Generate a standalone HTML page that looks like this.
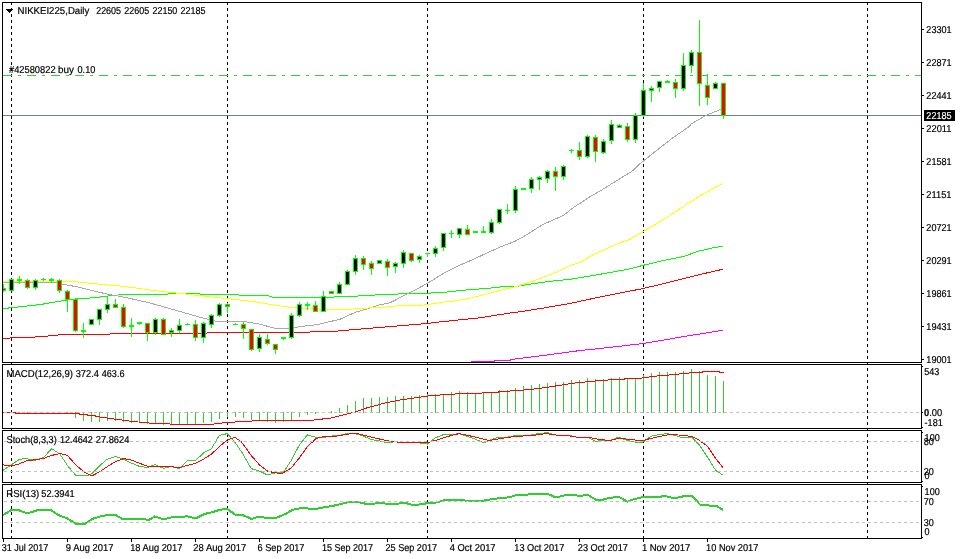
<!DOCTYPE html>
<html lang="en"><head><meta charset="utf-8"><title>NIKKEI225, Daily</title>
<style>
html,body{margin:0;padding:0;background:#fff;}
body{width:961px;height:559px;overflow:hidden;}
svg{display:block;}
svg text{font-family:'Liberation Sans', sans-serif;font-size:10px;white-space:pre;stroke-width:0.2px;text-rendering:geometricPrecision;}
svg rect,svg line,svg polyline{shape-rendering:crispEdges;}
</style></head><body>
<svg width="961" height="559" viewBox="0 0 961 559">
<rect x="0" y="0" width="961" height="559" fill="#fff"/>
<defs>
<clipPath id="cp0"><rect x="3" y="3" width="918" height="359"/></clipPath>
<clipPath id="cp1"><rect x="3" y="365" width="918" height="63"/></clipPath>
<clipPath id="cp2"><rect x="3" y="431" width="918" height="51"/></clipPath>
<clipPath id="cp3"><rect x="3" y="485" width="918" height="53"/></clipPath>
</defs>
<line x1="11.5" y1="2" x2="11.5" y2="539" stroke="#000" stroke-width="1" stroke-dasharray="3 3"/>
<line x1="227.5" y1="2" x2="227.5" y2="539" stroke="#000" stroke-width="1" stroke-dasharray="3 3"/>
<line x1="427.5" y1="2" x2="427.5" y2="539" stroke="#000" stroke-width="1" stroke-dasharray="3 3"/>
<line x1="643.5" y1="2" x2="643.5" y2="539" stroke="#000" stroke-width="1" stroke-dasharray="3 3"/>
<line x1="867.5" y1="2" x2="867.5" y2="539" stroke="#000" stroke-width="1" stroke-dasharray="3 3"/>
<g clip-path="url(#cp0)">
<line x1="3" y1="75.5" x2="921" y2="75.5" stroke="#32cd32" stroke-width="1" stroke-dasharray="9 6 3 6"/>
<rect x="3" y="115" width="918" height="1" fill="#708090"/>
<polyline points="471.0,361.5 494.5,361.5 495.0,360.5 510.5,360.5 511.0,359.5 519.0,358.5 527.0,357.5 535.0,356.6 579.5,350.6 610.0,347.4 644.0,343.4 684.2,336.5 723.0,330.2" fill="none" stroke="#ff00ff" stroke-width="1" stroke-linejoin="round"/>
<polyline points="3.0,338.3 40.0,336.8 64.0,334.4 108.0,334.4 112.0,333.5 205.0,333.5 209.0,332.5 308.0,332.5 312.0,331.5 333.0,331.5 343.0,330.5 354.6,329.5 367.0,328.5 379.3,327.5 391.2,326.5 402.8,325.5 415.0,324.5 427.0,323.5 434.8,322.5 444.0,321.5 455.0,320.3 480.0,317.8 510.0,313.0 521.6,311.5 542.0,308.3 556.5,305.7 570.0,303.5 593.3,298.4 616.5,293.7 643.7,288.4 674.7,280.9 697.9,275.0 723.0,269.2" fill="none" stroke="#ff0000" stroke-width="1" stroke-linejoin="round"/>
<polyline points="3.0,308.6 40.0,304.6 71.0,299.4 95.0,297.6 105.0,296.4 115.0,295.2 127.0,294.5 166.0,294.5 170.0,293.5 198.0,293.5 202.0,294.6 238.0,294.6 242.0,295.8 268.0,295.8 273.0,297.4 333.0,297.4 337.0,296.3 357.0,296.3 361.0,295.0 375.0,295.0 379.0,294.4 397.0,294.4 400.0,293.5 429.0,293.5 433.0,292.5 445.0,292.4 449.0,291.5 454.6,291.1 469.1,289.7 486.6,288.5 502.6,286.7 517.2,286.3 527.4,284.6 542.0,282.4 556.5,280.6 570.0,279.4 593.3,275.5 628.1,269.2 643.7,265.2 663.0,260.6 684.0,256.4 697.9,251.3 714.2,247.6 723.0,246.3" fill="none" stroke="#00ff00" stroke-width="1" stroke-linejoin="round"/>
<polyline points="3.0,282.6 56.0,282.8 77.6,287.0 105.0,293.6 127.7,297.9 150.0,303.0 181.3,311.9 200.0,317.2 216.4,321.4 244.0,321.4 260.0,324.2 275.0,328.4 289.0,328.5 301.0,326.4 316.4,324.8 340.2,319.2 355.2,312.3 370.0,308.0 380.0,304.8 390.0,302.8 412.0,291.5 427.4,283.4 440.0,275.5 448.6,270.6 457.2,266.3 472.2,259.9 487.2,252.8 500.1,247.0 515.2,241.2 525.9,235.2 543.1,224.4 563.5,215.4 573.2,207.7 590.3,196.5 600.0,191.1 616.5,180.8 625.1,175.5 633.3,170.4 639.0,164.5 643.0,161.3 660.0,147.7 672.7,137.9 688.4,127.1 691.5,123.7 706.5,115.1 720.8,109.4 723.0,108.6" fill="none" stroke="#a9a9a9" stroke-width="1" stroke-linejoin="round"/>
<polyline points="3.0,281.3 71.0,281.3 96.4,283.9 120.0,286.0 135.0,287.9 150.0,290.0 166.6,292.1 183.3,293.7 200.0,295.7 216.5,297.5 233.0,299.2 250.0,301.2 265.0,303.4 275.0,305.2 289.0,307.2 304.0,308.5 320.0,309.2 350.0,309.2 362.0,308.4 380.0,307.3 390.0,306.8 395.0,306.2 399.0,305.5 421.0,305.5 425.0,304.5 430.0,304.3 433.0,303.5 437.0,303.2 440.0,302.5 454.6,301.0 469.1,298.4 483.7,294.8 498.3,290.8 517.2,286.3 534.7,280.6 556.5,272.2 570.0,265.6 580.0,262.4 593.3,254.6 616.5,244.3 630.5,239.0 643.7,231.3 658.4,222.7 674.7,212.2 697.9,197.1 714.2,187.8 723.0,183.6" fill="none" stroke="#ffff00" stroke-width="1" stroke-linejoin="round"/>
<rect x="3" y="284" width="1" height="8" fill="#00ff00"/>
<rect x="1" y="288" width="5" height="3" fill="#00ff00"/>
<rect x="2" y="289" width="3" height="1" fill="#ff0000"/>
<rect x="11" y="279" width="1" height="12" fill="#00ff00"/>
<rect x="9" y="279" width="5" height="12" fill="#00ff00"/>
<rect x="10" y="280" width="3" height="10" fill="#000"/>
<rect x="19" y="276" width="1" height="8" fill="#00ff00"/>
<rect x="17" y="279" width="5" height="2" fill="#00ff00"/>
<rect x="27" y="279" width="1" height="10" fill="#00ff00"/>
<rect x="25" y="280" width="5" height="8" fill="#00ff00"/>
<rect x="26" y="281" width="3" height="6" fill="#ff0000"/>
<rect x="35" y="279" width="1" height="11" fill="#00ff00"/>
<rect x="33" y="280" width="5" height="8" fill="#00ff00"/>
<rect x="34" y="281" width="3" height="6" fill="#000"/>
<rect x="43" y="278" width="1" height="3" fill="#00ff00"/>
<rect x="41" y="279" width="5" height="1" fill="#00ff00"/>
<rect x="51" y="278" width="1" height="5" fill="#00ff00"/>
<rect x="49" y="279" width="5" height="2" fill="#00ff00"/>
<rect x="59" y="279" width="1" height="14" fill="#00ff00"/>
<rect x="57" y="280" width="5" height="11" fill="#00ff00"/>
<rect x="58" y="281" width="3" height="9" fill="#ff0000"/>
<rect x="67" y="290" width="1" height="22" fill="#00ff00"/>
<rect x="65" y="291" width="5" height="9" fill="#00ff00"/>
<rect x="66" y="292" width="3" height="7" fill="#ff0000"/>
<rect x="75" y="298" width="1" height="34" fill="#00ff00"/>
<rect x="73" y="299" width="5" height="32" fill="#00ff00"/>
<rect x="74" y="300" width="3" height="30" fill="#ff0000"/>
<rect x="83" y="323" width="1" height="15" fill="#00ff00"/>
<rect x="81" y="330" width="5" height="2" fill="#00ff00"/>
<rect x="91" y="319" width="1" height="6" fill="#00ff00"/>
<rect x="89" y="319" width="5" height="6" fill="#00ff00"/>
<rect x="90" y="320" width="3" height="4" fill="#000"/>
<rect x="99" y="309" width="1" height="16" fill="#00ff00"/>
<rect x="97" y="309" width="5" height="11" fill="#00ff00"/>
<rect x="98" y="310" width="3" height="9" fill="#000"/>
<rect x="107" y="296" width="1" height="17" fill="#00ff00"/>
<rect x="105" y="304" width="5" height="6" fill="#00ff00"/>
<rect x="106" y="305" width="3" height="4" fill="#000"/>
<rect x="115" y="299" width="1" height="9" fill="#00ff00"/>
<rect x="113" y="304" width="5" height="4" fill="#00ff00"/>
<rect x="114" y="305" width="3" height="2" fill="#ff0000"/>
<rect x="123" y="304" width="1" height="24" fill="#00ff00"/>
<rect x="121" y="307" width="5" height="20" fill="#00ff00"/>
<rect x="122" y="308" width="3" height="18" fill="#ff0000"/>
<rect x="131" y="318" width="1" height="19" fill="#00ff00"/>
<rect x="129" y="325" width="5" height="2" fill="#00ff00"/>
<rect x="139" y="322" width="1" height="3" fill="#00ff00"/>
<rect x="137" y="322" width="5" height="2" fill="#00ff00"/>
<rect x="147" y="323" width="1" height="18" fill="#00ff00"/>
<rect x="145" y="323" width="5" height="10" fill="#00ff00"/>
<rect x="146" y="324" width="3" height="8" fill="#ff0000"/>
<rect x="155" y="318" width="1" height="17" fill="#00ff00"/>
<rect x="153" y="319" width="5" height="14" fill="#00ff00"/>
<rect x="154" y="320" width="3" height="12" fill="#000"/>
<rect x="163" y="318" width="1" height="17" fill="#00ff00"/>
<rect x="161" y="319" width="5" height="16" fill="#00ff00"/>
<rect x="162" y="320" width="3" height="14" fill="#ff0000"/>
<rect x="171" y="328" width="1" height="9" fill="#00ff00"/>
<rect x="169" y="330" width="5" height="3" fill="#00ff00"/>
<rect x="170" y="331" width="3" height="1" fill="#000"/>
<rect x="179" y="319" width="1" height="14" fill="#00ff00"/>
<rect x="177" y="325" width="5" height="6" fill="#00ff00"/>
<rect x="178" y="326" width="3" height="4" fill="#000"/>
<rect x="187" y="323" width="1" height="2" fill="#00ff00"/>
<rect x="185" y="324" width="5" height="1" fill="#00ff00"/>
<rect x="195" y="320" width="1" height="21" fill="#00ff00"/>
<rect x="193" y="324" width="5" height="14" fill="#00ff00"/>
<rect x="194" y="325" width="3" height="12" fill="#ff0000"/>
<rect x="203" y="322" width="1" height="21" fill="#00ff00"/>
<rect x="201" y="323" width="5" height="15" fill="#00ff00"/>
<rect x="202" y="324" width="3" height="13" fill="#000"/>
<rect x="211" y="314" width="1" height="14" fill="#00ff00"/>
<rect x="209" y="315" width="5" height="10" fill="#00ff00"/>
<rect x="210" y="316" width="3" height="8" fill="#000"/>
<rect x="219" y="303" width="1" height="14" fill="#00ff00"/>
<rect x="217" y="304" width="5" height="12" fill="#00ff00"/>
<rect x="218" y="305" width="3" height="10" fill="#000"/>
<rect x="227" y="303" width="1" height="10" fill="#00ff00"/>
<rect x="225" y="304" width="5" height="3" fill="#00ff00"/>
<rect x="226" y="305" width="3" height="1" fill="#ff0000"/>
<rect x="235" y="323" width="1" height="2" fill="#00ff00"/>
<rect x="233" y="324" width="5" height="1" fill="#00ff00"/>
<rect x="243" y="322" width="1" height="17" fill="#00ff00"/>
<rect x="241" y="324" width="5" height="5" fill="#00ff00"/>
<rect x="242" y="325" width="3" height="3" fill="#ff0000"/>
<rect x="251" y="329" width="1" height="22" fill="#00ff00"/>
<rect x="249" y="329" width="5" height="21" fill="#00ff00"/>
<rect x="250" y="330" width="3" height="19" fill="#ff0000"/>
<rect x="259" y="334" width="1" height="18" fill="#00ff00"/>
<rect x="257" y="337" width="5" height="12" fill="#00ff00"/>
<rect x="258" y="338" width="3" height="10" fill="#000"/>
<rect x="267" y="334" width="1" height="11" fill="#00ff00"/>
<rect x="265" y="339" width="5" height="5" fill="#00ff00"/>
<rect x="266" y="340" width="3" height="3" fill="#ff0000"/>
<rect x="275" y="344" width="1" height="10" fill="#00ff00"/>
<rect x="273" y="344" width="5" height="6" fill="#00ff00"/>
<rect x="274" y="345" width="3" height="4" fill="#ff0000"/>
<rect x="283" y="337" width="1" height="3" fill="#00ff00"/>
<rect x="281" y="337" width="5" height="2" fill="#00ff00"/>
<rect x="291" y="313" width="1" height="26" fill="#00ff00"/>
<rect x="289" y="315" width="5" height="23" fill="#00ff00"/>
<rect x="290" y="316" width="3" height="21" fill="#000"/>
<rect x="299" y="302" width="1" height="15" fill="#00ff00"/>
<rect x="297" y="304" width="5" height="12" fill="#00ff00"/>
<rect x="298" y="305" width="3" height="10" fill="#000"/>
<rect x="307" y="302" width="1" height="8" fill="#00ff00"/>
<rect x="305" y="304" width="5" height="2" fill="#00ff00"/>
<rect x="315" y="301" width="1" height="11" fill="#00ff00"/>
<rect x="313" y="305" width="5" height="7" fill="#00ff00"/>
<rect x="314" y="306" width="3" height="5" fill="#ff0000"/>
<rect x="323" y="291" width="1" height="21" fill="#00ff00"/>
<rect x="321" y="296" width="5" height="16" fill="#00ff00"/>
<rect x="322" y="297" width="3" height="14" fill="#000"/>
<rect x="331" y="291" width="1" height="3" fill="#00ff00"/>
<rect x="329" y="291" width="5" height="3" fill="#00ff00"/>
<rect x="330" y="292" width="3" height="1" fill="#ff0000"/>
<rect x="339" y="282" width="1" height="12" fill="#00ff00"/>
<rect x="337" y="284" width="5" height="10" fill="#00ff00"/>
<rect x="338" y="285" width="3" height="8" fill="#000"/>
<rect x="347" y="270" width="1" height="15" fill="#00ff00"/>
<rect x="345" y="271" width="5" height="14" fill="#00ff00"/>
<rect x="346" y="272" width="3" height="12" fill="#000"/>
<rect x="355" y="255" width="1" height="20" fill="#00ff00"/>
<rect x="353" y="258" width="5" height="14" fill="#00ff00"/>
<rect x="354" y="259" width="3" height="12" fill="#000"/>
<rect x="363" y="256" width="1" height="14" fill="#00ff00"/>
<rect x="361" y="258" width="5" height="7" fill="#00ff00"/>
<rect x="362" y="259" width="3" height="5" fill="#ff0000"/>
<rect x="371" y="261" width="1" height="14" fill="#00ff00"/>
<rect x="369" y="263" width="5" height="6" fill="#00ff00"/>
<rect x="370" y="264" width="3" height="4" fill="#ff0000"/>
<rect x="379" y="260" width="1" height="4" fill="#00ff00"/>
<rect x="377" y="260" width="5" height="4" fill="#00ff00"/>
<rect x="378" y="261" width="3" height="2" fill="#000"/>
<rect x="387" y="259" width="1" height="17" fill="#00ff00"/>
<rect x="385" y="261" width="5" height="7" fill="#00ff00"/>
<rect x="386" y="262" width="3" height="5" fill="#ff0000"/>
<rect x="395" y="262" width="1" height="11" fill="#00ff00"/>
<rect x="393" y="263" width="5" height="4" fill="#00ff00"/>
<rect x="394" y="264" width="3" height="2" fill="#000"/>
<rect x="403" y="250" width="1" height="18" fill="#00ff00"/>
<rect x="401" y="252" width="5" height="12" fill="#00ff00"/>
<rect x="402" y="253" width="3" height="10" fill="#000"/>
<rect x="411" y="253" width="1" height="9" fill="#00ff00"/>
<rect x="409" y="253" width="5" height="8" fill="#00ff00"/>
<rect x="410" y="254" width="3" height="6" fill="#ff0000"/>
<rect x="419" y="255" width="1" height="8" fill="#00ff00"/>
<rect x="417" y="256" width="5" height="4" fill="#00ff00"/>
<rect x="418" y="257" width="3" height="2" fill="#000"/>
<rect x="427" y="253" width="1" height="4" fill="#00ff00"/>
<rect x="425" y="253" width="5" height="1" fill="#00ff00"/>
<rect x="435" y="246" width="1" height="11" fill="#00ff00"/>
<rect x="433" y="248" width="5" height="6" fill="#00ff00"/>
<rect x="434" y="249" width="3" height="4" fill="#000"/>
<rect x="443" y="233" width="1" height="18" fill="#00ff00"/>
<rect x="441" y="233" width="5" height="15" fill="#00ff00"/>
<rect x="442" y="234" width="3" height="13" fill="#000"/>
<rect x="451" y="230" width="1" height="8" fill="#00ff00"/>
<rect x="449" y="233" width="5" height="1" fill="#00ff00"/>
<rect x="459" y="228" width="1" height="10" fill="#00ff00"/>
<rect x="457" y="228" width="5" height="7" fill="#00ff00"/>
<rect x="458" y="229" width="3" height="5" fill="#000"/>
<rect x="467" y="225" width="1" height="10" fill="#00ff00"/>
<rect x="465" y="229" width="5" height="6" fill="#00ff00"/>
<rect x="466" y="230" width="3" height="4" fill="#ff0000"/>
<rect x="475" y="231" width="1" height="2" fill="#00ff00"/>
<rect x="473" y="231" width="5" height="2" fill="#00ff00"/>
<rect x="483" y="226" width="1" height="7" fill="#00ff00"/>
<rect x="481" y="231" width="5" height="2" fill="#00ff00"/>
<rect x="491" y="219" width="1" height="15" fill="#00ff00"/>
<rect x="489" y="222" width="5" height="11" fill="#00ff00"/>
<rect x="490" y="223" width="3" height="9" fill="#000"/>
<rect x="499" y="209" width="1" height="15" fill="#00ff00"/>
<rect x="497" y="209" width="5" height="14" fill="#00ff00"/>
<rect x="498" y="210" width="3" height="12" fill="#000"/>
<rect x="507" y="204" width="1" height="10" fill="#00ff00"/>
<rect x="505" y="210" width="5" height="1" fill="#00ff00"/>
<rect x="515" y="186" width="1" height="27" fill="#00ff00"/>
<rect x="513" y="189" width="5" height="22" fill="#00ff00"/>
<rect x="514" y="190" width="3" height="20" fill="#000"/>
<rect x="523" y="188" width="1" height="2" fill="#00ff00"/>
<rect x="521" y="188" width="5" height="2" fill="#00ff00"/>
<rect x="531" y="177" width="1" height="16" fill="#00ff00"/>
<rect x="529" y="179" width="5" height="10" fill="#00ff00"/>
<rect x="530" y="180" width="3" height="8" fill="#000"/>
<rect x="539" y="176" width="1" height="14" fill="#00ff00"/>
<rect x="537" y="177" width="5" height="3" fill="#00ff00"/>
<rect x="538" y="178" width="3" height="1" fill="#000"/>
<rect x="547" y="170" width="1" height="13" fill="#00ff00"/>
<rect x="545" y="171" width="5" height="8" fill="#00ff00"/>
<rect x="546" y="172" width="3" height="6" fill="#000"/>
<rect x="555" y="167" width="1" height="24" fill="#00ff00"/>
<rect x="553" y="171" width="5" height="6" fill="#00ff00"/>
<rect x="554" y="172" width="3" height="4" fill="#ff0000"/>
<rect x="563" y="165" width="1" height="15" fill="#00ff00"/>
<rect x="561" y="166" width="5" height="11" fill="#00ff00"/>
<rect x="562" y="167" width="3" height="9" fill="#000"/>
<rect x="571" y="149" width="1" height="4" fill="#00ff00"/>
<rect x="569" y="150" width="5" height="1" fill="#00ff00"/>
<rect x="579" y="142" width="1" height="18" fill="#00ff00"/>
<rect x="577" y="150" width="5" height="7" fill="#00ff00"/>
<rect x="578" y="151" width="3" height="5" fill="#ff0000"/>
<rect x="587" y="135" width="1" height="23" fill="#00ff00"/>
<rect x="585" y="136" width="5" height="21" fill="#00ff00"/>
<rect x="586" y="137" width="3" height="19" fill="#000"/>
<rect x="595" y="135" width="1" height="27" fill="#00ff00"/>
<rect x="593" y="137" width="5" height="15" fill="#00ff00"/>
<rect x="594" y="138" width="3" height="13" fill="#ff0000"/>
<rect x="603" y="139" width="1" height="15" fill="#00ff00"/>
<rect x="601" y="141" width="5" height="12" fill="#00ff00"/>
<rect x="602" y="142" width="3" height="10" fill="#000"/>
<rect x="611" y="120" width="1" height="24" fill="#00ff00"/>
<rect x="609" y="124" width="5" height="17" fill="#00ff00"/>
<rect x="610" y="125" width="3" height="15" fill="#000"/>
<rect x="619" y="124" width="1" height="4" fill="#00ff00"/>
<rect x="617" y="125" width="5" height="3" fill="#00ff00"/>
<rect x="618" y="126" width="3" height="1" fill="#000"/>
<rect x="627" y="123" width="1" height="19" fill="#00ff00"/>
<rect x="625" y="126" width="5" height="14" fill="#00ff00"/>
<rect x="626" y="127" width="3" height="12" fill="#ff0000"/>
<rect x="635" y="113" width="1" height="30" fill="#00ff00"/>
<rect x="633" y="115" width="5" height="25" fill="#00ff00"/>
<rect x="634" y="116" width="3" height="23" fill="#000"/>
<rect x="643" y="83" width="1" height="34" fill="#00ff00"/>
<rect x="641" y="90" width="5" height="26" fill="#00ff00"/>
<rect x="642" y="91" width="3" height="24" fill="#000"/>
<rect x="651" y="86" width="1" height="16" fill="#00ff00"/>
<rect x="649" y="88" width="5" height="3" fill="#00ff00"/>
<rect x="650" y="89" width="3" height="1" fill="#000"/>
<rect x="659" y="81" width="1" height="11" fill="#00ff00"/>
<rect x="657" y="81" width="5" height="7" fill="#00ff00"/>
<rect x="658" y="82" width="3" height="5" fill="#000"/>
<rect x="667" y="80" width="1" height="3" fill="#00ff00"/>
<rect x="665" y="81" width="5" height="2" fill="#00ff00"/>
<rect x="675" y="79" width="1" height="19" fill="#00ff00"/>
<rect x="673" y="82" width="5" height="7" fill="#00ff00"/>
<rect x="674" y="83" width="3" height="5" fill="#ff0000"/>
<rect x="683" y="53" width="1" height="38" fill="#00ff00"/>
<rect x="681" y="65" width="5" height="24" fill="#00ff00"/>
<rect x="682" y="66" width="3" height="22" fill="#000"/>
<rect x="691" y="50" width="1" height="23" fill="#00ff00"/>
<rect x="689" y="52" width="5" height="14" fill="#00ff00"/>
<rect x="690" y="53" width="3" height="12" fill="#000"/>
<rect x="699" y="20" width="1" height="86" fill="#00ff00"/>
<rect x="697" y="52" width="5" height="32" fill="#00ff00"/>
<rect x="698" y="53" width="3" height="30" fill="#ff0000"/>
<rect x="707" y="74" width="1" height="31" fill="#00ff00"/>
<rect x="705" y="85" width="5" height="13" fill="#00ff00"/>
<rect x="706" y="86" width="3" height="11" fill="#ff0000"/>
<rect x="715" y="82" width="1" height="7" fill="#00ff00"/>
<rect x="713" y="83" width="5" height="6" fill="#00ff00"/>
<rect x="714" y="84" width="3" height="4" fill="#000"/>
<rect x="723" y="83" width="1" height="36" fill="#00ff00"/>
<rect x="721" y="83" width="5" height="33" fill="#00ff00"/>
<rect x="722" y="84" width="3" height="31" fill="#ff0000"/>
</g>
<g clip-path="url(#cp1)">
<rect x="19" y="412" width="1" height="1" fill="#32cd32"/>
<rect x="27" y="412" width="1" height="1" fill="#32cd32"/>
<rect x="67" y="412" width="1" height="1" fill="#32cd32"/>
<rect x="75" y="412" width="1" height="6" fill="#32cd32"/>
<rect x="83" y="412" width="1" height="9" fill="#32cd32"/>
<rect x="91" y="412" width="1" height="10" fill="#32cd32"/>
<rect x="99" y="412" width="1" height="10" fill="#32cd32"/>
<rect x="107" y="412" width="1" height="9" fill="#32cd32"/>
<rect x="115" y="412" width="1" height="9" fill="#32cd32"/>
<rect x="123" y="412" width="1" height="10" fill="#32cd32"/>
<rect x="131" y="412" width="1" height="11" fill="#32cd32"/>
<rect x="139" y="412" width="1" height="11" fill="#32cd32"/>
<rect x="147" y="412" width="1" height="12" fill="#32cd32"/>
<rect x="155" y="412" width="1" height="12" fill="#32cd32"/>
<rect x="163" y="412" width="1" height="13" fill="#32cd32"/>
<rect x="171" y="412" width="1" height="13" fill="#32cd32"/>
<rect x="179" y="412" width="1" height="13" fill="#32cd32"/>
<rect x="187" y="412" width="1" height="13" fill="#32cd32"/>
<rect x="195" y="412" width="1" height="12" fill="#32cd32"/>
<rect x="203" y="412" width="1" height="11" fill="#32cd32"/>
<rect x="211" y="412" width="1" height="10" fill="#32cd32"/>
<rect x="219" y="412" width="1" height="7" fill="#32cd32"/>
<rect x="227" y="412" width="1" height="5" fill="#32cd32"/>
<rect x="235" y="412" width="1" height="5" fill="#32cd32"/>
<rect x="243" y="412" width="1" height="6" fill="#32cd32"/>
<rect x="251" y="412" width="1" height="8" fill="#32cd32"/>
<rect x="259" y="412" width="1" height="9" fill="#32cd32"/>
<rect x="267" y="412" width="1" height="10" fill="#32cd32"/>
<rect x="275" y="412" width="1" height="11" fill="#32cd32"/>
<rect x="283" y="412" width="1" height="10" fill="#32cd32"/>
<rect x="291" y="412" width="1" height="8" fill="#32cd32"/>
<rect x="299" y="412" width="1" height="5" fill="#32cd32"/>
<rect x="307" y="412" width="1" height="3" fill="#32cd32"/>
<rect x="315" y="412" width="1" height="2" fill="#32cd32"/>
<rect x="323" y="412" width="1" height="1" fill="#32cd32"/>
<rect x="331" y="411" width="1" height="2" fill="#32cd32"/>
<rect x="339" y="408" width="1" height="5" fill="#32cd32"/>
<rect x="347" y="405" width="1" height="8" fill="#32cd32"/>
<rect x="355" y="401" width="1" height="12" fill="#32cd32"/>
<rect x="363" y="398" width="1" height="15" fill="#32cd32"/>
<rect x="371" y="398" width="1" height="15" fill="#32cd32"/>
<rect x="379" y="397" width="1" height="16" fill="#32cd32"/>
<rect x="387" y="397" width="1" height="16" fill="#32cd32"/>
<rect x="395" y="396" width="1" height="17" fill="#32cd32"/>
<rect x="403" y="396" width="1" height="17" fill="#32cd32"/>
<rect x="411" y="396" width="1" height="17" fill="#32cd32"/>
<rect x="419" y="395" width="1" height="18" fill="#32cd32"/>
<rect x="427" y="394" width="1" height="19" fill="#32cd32"/>
<rect x="435" y="394" width="1" height="19" fill="#32cd32"/>
<rect x="443" y="394" width="1" height="19" fill="#32cd32"/>
<rect x="451" y="392" width="1" height="21" fill="#32cd32"/>
<rect x="459" y="391" width="1" height="22" fill="#32cd32"/>
<rect x="467" y="392" width="1" height="21" fill="#32cd32"/>
<rect x="475" y="393" width="1" height="20" fill="#32cd32"/>
<rect x="483" y="393" width="1" height="20" fill="#32cd32"/>
<rect x="491" y="392" width="1" height="21" fill="#32cd32"/>
<rect x="499" y="390" width="1" height="23" fill="#32cd32"/>
<rect x="507" y="390" width="1" height="23" fill="#32cd32"/>
<rect x="515" y="388" width="1" height="25" fill="#32cd32"/>
<rect x="523" y="386" width="1" height="27" fill="#32cd32"/>
<rect x="531" y="385" width="1" height="28" fill="#32cd32"/>
<rect x="539" y="384" width="1" height="29" fill="#32cd32"/>
<rect x="547" y="383" width="1" height="30" fill="#32cd32"/>
<rect x="555" y="382" width="1" height="31" fill="#32cd32"/>
<rect x="563" y="382" width="1" height="31" fill="#32cd32"/>
<rect x="571" y="380" width="1" height="33" fill="#32cd32"/>
<rect x="579" y="380" width="1" height="33" fill="#32cd32"/>
<rect x="587" y="378" width="1" height="35" fill="#32cd32"/>
<rect x="595" y="379" width="1" height="34" fill="#32cd32"/>
<rect x="603" y="379" width="1" height="34" fill="#32cd32"/>
<rect x="611" y="378" width="1" height="35" fill="#32cd32"/>
<rect x="619" y="377" width="1" height="36" fill="#32cd32"/>
<rect x="627" y="378" width="1" height="35" fill="#32cd32"/>
<rect x="635" y="378" width="1" height="35" fill="#32cd32"/>
<rect x="643" y="375" width="1" height="38" fill="#32cd32"/>
<rect x="651" y="373" width="1" height="40" fill="#32cd32"/>
<rect x="659" y="372" width="1" height="41" fill="#32cd32"/>
<rect x="667" y="372" width="1" height="41" fill="#32cd32"/>
<rect x="675" y="372" width="1" height="41" fill="#32cd32"/>
<rect x="683" y="371" width="1" height="42" fill="#32cd32"/>
<rect x="691" y="369" width="1" height="44" fill="#32cd32"/>
<rect x="699" y="371" width="1" height="42" fill="#32cd32"/>
<rect x="707" y="375" width="1" height="38" fill="#32cd32"/>
<rect x="715" y="376" width="1" height="37" fill="#32cd32"/>
<rect x="723" y="381" width="1" height="32" fill="#32cd32"/>
<polyline points="3.0,412.5 15.5,412.5 16.0,413.5 79.5,413.5 80.0,414.5 87.5,414.5 88.0,415.5 95.5,415.5 96.0,416.5 104.0,417.5 112.4,418.8 133.2,421.5 154.0,423.5 183.0,424.4 200.0,424.5 209.0,424.6 226.6,422.5 255.8,420.8 308.0,420.8 331.5,417.9 354.8,412.1 366.5,408.0 384.0,403.3 401.4,399.8 427.7,396.0 450.0,394.2 490.6,392.7 512.4,390.8 531.0,389.5 553.0,386.4 574.9,383.0 596.7,380.8 618.6,379.2 637.3,378.6 656.0,376.1 674.8,374.5 693.5,372.5 702.5,372.5 703.0,371.5 719.5,371.5 720.0,372.5 724.0,372.5" fill="none" stroke="#ff0000" stroke-width="1" stroke-linejoin="round"/>
</g>
<g clip-path="url(#cp2)">
<polyline points="3.0,470.4 11.2,464.9 18.7,459.9 25.0,458.4 35.0,460.4 43.7,457.4 51.7,448.6 60.0,454.1 67.4,465.4 76.2,475.9 86.2,475.9 91.2,474.1 99.9,465.4 107.4,459.1 115.4,456.6 123.6,459.1 131.1,462.9 139.9,466.6 147.4,467.4 155.3,464.6 163.6,468.4 171.0,466.6 179.3,468.4 187.3,460.9 195.3,460.9 203.5,452.9 211.5,448.6 219.3,435.4 227.3,433.6 235.0,442.4 243.0,454.1 251.2,468.6 259.5,471.1 267.5,474.9 275.5,472.9 283.7,472.1 291.2,460.4 299.4,444.9 307.4,434.9 316.2,437.4 323.7,437.4 331.1,436.1 339.1,435.4 347.4,433.6 354.9,433.6 363.6,436.1 371.1,439.6 379.4,440.9 387.3,442.9 395.3,441.6 403.6,442.9 411.6,442.4 419.8,442.9 427.3,444.1 435.3,437.9 443.5,434.6 451.5,434.6 459.3,433.6 467.3,436.4 476.0,439.4 483.9,442.9 492.0,439.4 499.3,437.1 508.0,437.1 515.4,435.6 524.0,435.6 531.4,435.0 540.0,433.3 547.4,432.7 556.0,435.0 567.8,435.0 576.5,437.1 588.0,437.1 595.5,441.4 602.8,440.0 610.0,440.6 618.8,437.1 627.5,440.6 634.8,442.0 643.0,442.0 650.8,436.4 658.0,434.7 666.9,433.6 675.6,435.6 682.9,437.9 691.6,437.1 698.9,444.4 707.7,457.4 715.8,470.6 722.8,474.9" fill="none" stroke="#32cd32" stroke-width="1" stroke-linejoin="round"/>
<polyline points="3.0,464.9 11.2,465.9 18.7,464.1 27.5,460.4 35.0,459.9 43.7,458.4 51.7,455.4 60.0,453.6 67.4,455.4 76.2,465.4 83.7,471.6 91.9,475.9 99.9,471.6 107.4,466.6 115.4,461.6 123.6,458.6 131.1,459.9 139.9,463.4 147.4,466.1 155.3,466.6 163.6,466.6 171.0,466.6 179.3,467.9 187.3,465.4 195.3,463.4 203.5,459.1 211.5,454.1 219.3,446.6 227.3,439.9 235.0,437.4 241.2,441.6 251.2,455.4 259.5,464.9 267.5,471.1 275.5,472.9 282.4,473.4 291.2,467.9 299.4,457.9 307.4,446.6 316.2,438.4 323.7,436.6 339.1,435.9 347.4,434.1 357.4,433.6 364.9,435.4 372.4,437.4 379.9,439.1 389.8,441.1 399.8,442.4 411.6,442.9 427.3,442.9 435.3,440.4 443.5,437.9 451.5,435.4 459.3,433.6 468.7,435.6 477.5,437.6 489.0,440.6 500.8,438.4 515.4,436.4 531.4,435.6 546.0,433.6 556.0,435.0 567.8,435.6 576.5,437.1 588.0,437.1 597.0,439.1 610.0,440.6 618.8,438.4 627.5,439.1 642.0,440.8 650.8,438.4 661.0,436.2 668.3,434.7 678.5,435.0 691.6,436.4 698.9,440.0 707.7,446.4 715.0,457.4 722.8,467.6" fill="none" stroke="#ff0000" stroke-width="1" stroke-linejoin="round"/>
</g>
<g clip-path="url(#cp3)">
<polyline points="3.0,515.2 11.2,510.2 18.7,510.2 27.5,513.4 37.5,510.2 51.2,510.2 58.7,515.2 67.4,518.4 76.2,523.9 84.9,523.9 92.4,518.9 102.4,515.7 114.9,514.7 122.4,518.9 143.6,518.9 148.6,520.2 154.8,516.4 163.6,519.4 172.3,517.2 187.3,516.4 196.0,518.4 204.8,513.9 212.3,512.2 219.8,509.7 227.3,508.9 235.0,514.6 242.0,514.8 251.6,518.9 258.4,516.7 267.9,518.1 277.3,517.5 285.5,514.0 292.2,510.0 301.7,507.8 308.5,508.6 317.9,508.6 324.7,507.2 332.8,505.9 340.9,504.0 350.4,501.8 357.2,501.8 365.3,503.7 373.4,503.7 378.8,502.9 386.9,503.7 397.8,503.7 404.5,502.7 411.3,504.6 418.0,504.6 427.5,503.2 437.0,502.4 445.0,500.0 462.7,500.0 468.0,501.0 481.6,501.0 488.1,499.7 499.0,498.3 509.8,497.2 516.5,495.1 531.4,494.3 534.0,493.7 547.6,493.7 554.4,497.0 558.5,497.0 565.2,495.1 574.7,495.1 578.8,495.9 588.2,495.1 596.3,500.0 601.8,500.0 609.9,497.8 619.3,497.0 627.5,501.8 634.2,499.1 642.3,497.2 658.6,497.2 664.0,495.9 674.8,498.3 682.9,496.4 692.4,496.4 700.5,505.1 716.7,505.9 723.0,510.0" fill="none" stroke="#32cd32" stroke-width="2" stroke-linejoin="round"/>
</g>
<line x1="4" y1="412.5" x2="921" y2="412.5" stroke="#c0c0c0" stroke-width="1" stroke-dasharray="3 3"/>
<line x1="4" y1="441.5" x2="921" y2="441.5" stroke="#c0c0c0" stroke-width="1" stroke-dasharray="3 3"/>
<line x1="4" y1="471.5" x2="921" y2="471.5" stroke="#c0c0c0" stroke-width="1" stroke-dasharray="3 3"/>
<line x1="4" y1="501.5" x2="921" y2="501.5" stroke="#c0c0c0" stroke-width="1" stroke-dasharray="3 3"/>
<line x1="4" y1="522.5" x2="921" y2="522.5" stroke="#c0c0c0" stroke-width="1" stroke-dasharray="3 3"/>
<rect x="2" y="2" width="920" height="1" fill="#000"/>
<rect x="2" y="362" width="920" height="1" fill="#000"/>
<rect x="2" y="2" width="1" height="361" fill="#000"/>
<rect x="921" y="2" width="1" height="361" fill="#000"/>
<rect x="2" y="364" width="920" height="1" fill="#000"/>
<rect x="2" y="428" width="920" height="1" fill="#000"/>
<rect x="2" y="364" width="1" height="65" fill="#000"/>
<rect x="921" y="364" width="1" height="65" fill="#000"/>
<rect x="2" y="430" width="920" height="1" fill="#000"/>
<rect x="2" y="482" width="920" height="1" fill="#000"/>
<rect x="2" y="430" width="1" height="53" fill="#000"/>
<rect x="921" y="430" width="1" height="53" fill="#000"/>
<rect x="2" y="484" width="920" height="1" fill="#000"/>
<rect x="2" y="538" width="920" height="1" fill="#000"/>
<rect x="2" y="484" width="1" height="55" fill="#000"/>
<rect x="921" y="484" width="1" height="55" fill="#000"/>
<rect x="6" y="9" width="7" height="1" fill="#000"/>
<rect x="7" y="10" width="5" height="1" fill="#000"/>
<rect x="8" y="11" width="3" height="1" fill="#000"/>
<rect x="9" y="12" width="1" height="1" fill="#000"/>
<rect x="922" y="29" width="2" height="1" fill="#000"/>
<text x="926.35" y="33" fill="#000" stroke="#000" textLength="25.17" lengthAdjust="spacingAndGlyphs">23301</text>
<rect x="922" y="62" width="2" height="1" fill="#000"/>
<text x="926.35" y="66" fill="#000" stroke="#000" textLength="25.17" lengthAdjust="spacingAndGlyphs">22871</text>
<rect x="922" y="95" width="2" height="1" fill="#000"/>
<text x="926.35" y="99" fill="#000" stroke="#000" textLength="25.17" lengthAdjust="spacingAndGlyphs">22441</text>
<rect x="922" y="128" width="2" height="1" fill="#000"/>
<text x="926.35" y="132" fill="#000" stroke="#000" textLength="25.17" lengthAdjust="spacingAndGlyphs">22011</text>
<rect x="922" y="161" width="2" height="1" fill="#000"/>
<text x="926.35" y="165" fill="#000" stroke="#000" textLength="25.17" lengthAdjust="spacingAndGlyphs">21581</text>
<rect x="922" y="194" width="2" height="1" fill="#000"/>
<text x="926.35" y="198" fill="#000" stroke="#000" textLength="25.17" lengthAdjust="spacingAndGlyphs">21151</text>
<rect x="922" y="227" width="2" height="1" fill="#000"/>
<text x="926.35" y="231" fill="#000" stroke="#000" textLength="25.17" lengthAdjust="spacingAndGlyphs">20721</text>
<rect x="922" y="260" width="2" height="1" fill="#000"/>
<text x="926.35" y="264" fill="#000" stroke="#000" textLength="25.17" lengthAdjust="spacingAndGlyphs">20291</text>
<rect x="922" y="293" width="2" height="1" fill="#000"/>
<text x="926.35" y="297" fill="#000" stroke="#000" textLength="25.17" lengthAdjust="spacingAndGlyphs">19861</text>
<rect x="922" y="326" width="2" height="1" fill="#000"/>
<text x="926.35" y="330" fill="#000" stroke="#000" textLength="25.17" lengthAdjust="spacingAndGlyphs">19431</text>
<rect x="922" y="359" width="2" height="1" fill="#000"/>
<text x="926.35" y="363" fill="#000" stroke="#000" textLength="25.17" lengthAdjust="spacingAndGlyphs">19001</text>
<rect x="924" y="110" width="31" height="11" fill="#000"/>
<text x="926.35" y="119" fill="#fff" stroke="#fff" textLength="25.17" lengthAdjust="spacingAndGlyphs">22185</text>
<rect x="922" y="366" width="1" height="1" fill="#000"/>
<rect x="922" y="412" width="1" height="1" fill="#000"/>
<rect x="922" y="427" width="1" height="1" fill="#000"/>
<rect x="922" y="432" width="1" height="1" fill="#000"/>
<rect x="922" y="481" width="1" height="1" fill="#000"/>
<rect x="922" y="486" width="1" height="1" fill="#000"/>
<rect x="922" y="537" width="1" height="1" fill="#000"/>
<text x="924.20" y="375" fill="#000" stroke="#000" textLength="15.10" lengthAdjust="spacingAndGlyphs">543</text>
<text x="924.0" y="416" stroke="#000" textLength="18.21" lengthAdjust="spacingAndGlyphs"><tspan font-weight="bold">0</tspan>.00</text>
<text x="924.60" y="426" fill="#000" stroke="#000" textLength="18.11" lengthAdjust="spacingAndGlyphs">-181</text>
<text x="924.60" y="441" fill="#000" stroke="#000" textLength="15.10" lengthAdjust="spacingAndGlyphs">100</text>
<text x="923.70" y="445" fill="#000" stroke="#000" textLength="10.07" lengthAdjust="spacingAndGlyphs">80</text>
<text x="923.70" y="475" fill="#000" stroke="#000" textLength="10.07" lengthAdjust="spacingAndGlyphs">20</text>
<text x="924.40" y="479" fill="#000" stroke="#000" textLength="5.03" lengthAdjust="spacingAndGlyphs">0</text>
<text x="924.60" y="495" fill="#000" stroke="#000" textLength="15.10" lengthAdjust="spacingAndGlyphs">100</text>
<text x="923.70" y="505" fill="#000" stroke="#000" textLength="10.07" lengthAdjust="spacingAndGlyphs">70</text>
<text x="923.70" y="526" fill="#000" stroke="#000" textLength="10.07" lengthAdjust="spacingAndGlyphs">30</text>
<text x="924.40" y="535" fill="#000" stroke="#000" textLength="5.03" lengthAdjust="spacingAndGlyphs">0</text>
<text x="17.51" y="14" fill="#000" stroke="#000" textLength="71.81" lengthAdjust="spacingAndGlyphs">NIKKEI225,Daily</text>
<text x="96.15" y="14" fill="#000" stroke="#000" textLength="24.93" lengthAdjust="spacingAndGlyphs">22605</text>
<text x="124.35" y="14" fill="#000" stroke="#000" textLength="24.93" lengthAdjust="spacingAndGlyphs">22605</text>
<text x="152.45" y="14" fill="#000" stroke="#000" textLength="24.90" lengthAdjust="spacingAndGlyphs">22150</text>
<text x="180.45" y="14" fill="#000" stroke="#000" textLength="24.93" lengthAdjust="spacingAndGlyphs">22185</text>
<text x="8.96" y="73" fill="#000" stroke="#000" textLength="46.61" lengthAdjust="spacingAndGlyphs">#42580822</text>
<text x="58.06" y="73" fill="#000" stroke="#000" textLength="15.96" lengthAdjust="spacingAndGlyphs">buy</text>
<text x="77.54" y="73" fill="#000" stroke="#000" textLength="17.82" lengthAdjust="spacingAndGlyphs">0.10</text>
<text x="6.51" y="377" fill="#000" stroke="#000" textLength="66.48" lengthAdjust="spacingAndGlyphs">MACD(12,26,9)</text>
<text x="75.65" y="377" fill="#000" stroke="#000" textLength="23.23" lengthAdjust="spacingAndGlyphs">372.4</text>
<text x="101.79" y="377" fill="#000" stroke="#000" textLength="22.71" lengthAdjust="spacingAndGlyphs">463.6</text>
<text x="6.58" y="443" fill="#000" stroke="#000" textLength="50.19" lengthAdjust="spacingAndGlyphs">Stoch(8,3,3)</text>
<text x="60.01" y="443" fill="#000" stroke="#000" textLength="32.85" lengthAdjust="spacingAndGlyphs">12.4642</text>
<text x="95.73" y="443" fill="#000" stroke="#000" textLength="33.64" lengthAdjust="spacingAndGlyphs">27.8624</text>
<text x="6.21" y="497" fill="#000" stroke="#000" textLength="33.08" lengthAdjust="spacingAndGlyphs">RSI(13)</text>
<text x="41.33" y="497" fill="#000" stroke="#000" textLength="33.32" lengthAdjust="spacingAndGlyphs">52.3941</text>
<rect x="3" y="539" width="1" height="3" fill="#000"/>
<text x="1.66" y="551" fill="#000" stroke="#000" textLength="46.60" lengthAdjust="spacingAndGlyphs">31 Jul 2017</text>
<rect x="67" y="539" width="1" height="3" fill="#000"/>
<text x="65.86" y="551" fill="#000" stroke="#000" textLength="47.50" lengthAdjust="spacingAndGlyphs">9 Aug 2017</text>
<rect x="131" y="539" width="1" height="3" fill="#000"/>
<text x="130.20" y="551" fill="#000" stroke="#000" textLength="52.16" lengthAdjust="spacingAndGlyphs">18 Aug 2017</text>
<rect x="195" y="539" width="1" height="3" fill="#000"/>
<text x="193.33" y="551" fill="#000" stroke="#000" textLength="53.04" lengthAdjust="spacingAndGlyphs">28 Aug 2017</text>
<rect x="259" y="539" width="1" height="3" fill="#000"/>
<text x="257.53" y="551" fill="#000" stroke="#000" textLength="46.93" lengthAdjust="spacingAndGlyphs">6 Sep 2017</text>
<rect x="323" y="539" width="1" height="3" fill="#000"/>
<text x="322.12" y="551" fill="#000" stroke="#000" textLength="50.94" lengthAdjust="spacingAndGlyphs">15 Sep 2017</text>
<rect x="387" y="539" width="1" height="3" fill="#000"/>
<text x="385.54" y="551" fill="#000" stroke="#000" textLength="51.51" lengthAdjust="spacingAndGlyphs">25 Sep 2017</text>
<rect x="451" y="539" width="1" height="3" fill="#000"/>
<text x="449.68" y="551" fill="#000" stroke="#000" textLength="45.89" lengthAdjust="spacingAndGlyphs">4 Oct 2017</text>
<rect x="515" y="539" width="1" height="3" fill="#000"/>
<text x="514.30" y="551" fill="#000" stroke="#000" textLength="49.96" lengthAdjust="spacingAndGlyphs">13 Oct 2017</text>
<rect x="579" y="539" width="1" height="3" fill="#000"/>
<text x="577.84" y="551" fill="#000" stroke="#000" textLength="50.02" lengthAdjust="spacingAndGlyphs">23 Oct 2017</text>
<rect x="643" y="539" width="1" height="3" fill="#000"/>
<text x="641.88" y="551" fill="#000" stroke="#000" textLength="48.40" lengthAdjust="spacingAndGlyphs">1 Nov 2017</text>
<rect x="707" y="539" width="1" height="3" fill="#000"/>
<text x="706.10" y="551" fill="#000" stroke="#000" textLength="52.27" lengthAdjust="spacingAndGlyphs">10 Nov 2017</text>
</svg>
</body></html>
